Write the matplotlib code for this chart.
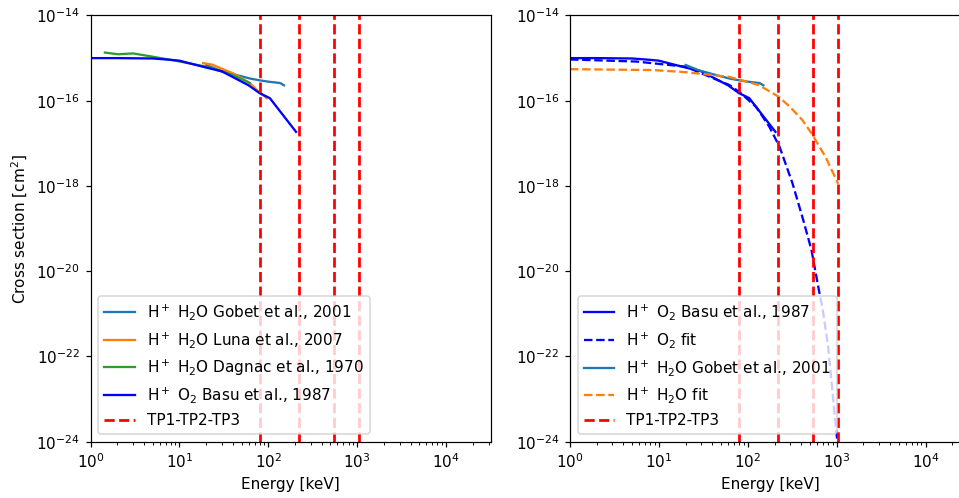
import numpy as np
import matplotlib
matplotlib.use('Agg')
import matplotlib.pyplot as plt

# energies in keV, cross sections in cm^2
basu_E = [1, 2, 5, 8, 10, 20, 30, 60, 80, 104, 205]
basu_s = [1.0e-15, 1.0e-15, 9.8e-16, 9.1e-16, 8.7e-16, 6.0e-16, 4.9e-16, 2.3e-16, 1.5e-16, 1.15e-16, 1.86e-17]

gobet_E = [20, 28, 44, 63, 81, 100, 136, 150]
gobet_s = [6.9e-16, 5.2e-16, 4.0e-16, 3.3e-16, 3.0e-16, 2.8e-16, 2.6e-16, 2.3e-16]

luna_E = [18.5, 23, 40, 62, 74, 96]
luna_s = [7.6e-16, 7.1e-16, 4.4e-16, 2.6e-16, 1.8e-16, 1.15e-16]

dagnac_E = [1.45, 2.05, 3.0, 4.5, 8.5, 20, 40, 62]
dagnac_s = [1.35e-15, 1.23e-15, 1.29e-15, 1.12e-15, 8.9e-16, 6.3e-16, 4.0e-16, 2.6e-16]

o2fit_E = [1, 5.6, 20, 62, 80, 124, 174, 228, 318, 412, 520, 640, 690, 800, 1040]
o2fit_s = [9.3e-16, 8.3e-16, 6.3e-16, 2.34e-16, 1.62e-16, 7.2e-17, 2.5e-17, 8.3e-18,
           1.17e-18, 1.86e-19, 3.2e-20, 3.1e-21, 1.45e-21, 1.8e-22, 6.3e-25]

h2ofit_E = [1, 3, 8.5, 20, 62, 133, 224, 300, 410, 520, 750, 1040]
h2ofit_s = [5.5e-16, 5.37e-16, 5.25e-16, 4.68e-16, 3.63e-16, 2.34e-16, 1.23e-16,
            7.1e-17, 3.55e-17, 1.74e-17, 4.8e-18, 1.12e-18]

tp_E = [80, 221, 545, 1040]

# 960x498 px, drawn at 110 dpi so text and lines come out a bit bigger
fig = plt.figure(figsize=(960 / 110, 498 / 110), dpi=110)
ax1 = fig.add_axes([0.0943, 0.1131, 0.4167, 0.8558])
ax2 = fig.add_axes([0.5937, 0.1131, 0.4167, 0.8558])

ax1.loglog(gobet_E, gobet_s, color='tab:blue', label=r'H$^+$ H$_2$O Gobet et al., 2001')
ax1.loglog(luna_E, luna_s, color='tab:orange', label=r'H$^+$ H$_2$O Luna et al., 2007')
ax1.loglog(dagnac_E, dagnac_s, color='tab:green', label=r'H$^+$ H$_2$O Dagnac et al., 1970')
ax1.loglog(basu_E, basu_s, color='blue', label=r'H$^+$ O$_2$ Basu et al., 1987')

ax2.loglog(basu_E, basu_s, color='blue', label=r'H$^+$ O$_2$ Basu et al., 1987')
ax2.loglog(o2fit_E, o2fit_s, '--', color='blue', label=r'H$^+$ O$_2$ fit')
ax2.loglog(gobet_E, gobet_s, color='tab:blue', label=r'H$^+$ H$_2$O Gobet et al., 2001')
ax2.loglog(h2ofit_E, h2ofit_s, '--', color='tab:orange', label=r'H$^+$ H$_2$O fit')

for ax in (ax1, ax2):
    for i, e in enumerate(tp_E):
        ax.axvline(e, color='red', linestyle='--', lw=1.8,
                   label='TP1-TP2-TP3' if i == 0 else None)
    ax.set_xlim(1, 10**4.5)
    ax.set_ylim(1e-24, 1e-14)
    ax.set_xlabel('Energy [keV]')
    ax.legend(loc='lower left')

ax1.set_ylabel(r'Cross section [cm$^2$]')

plt.savefig('out.png', dpi=110)
